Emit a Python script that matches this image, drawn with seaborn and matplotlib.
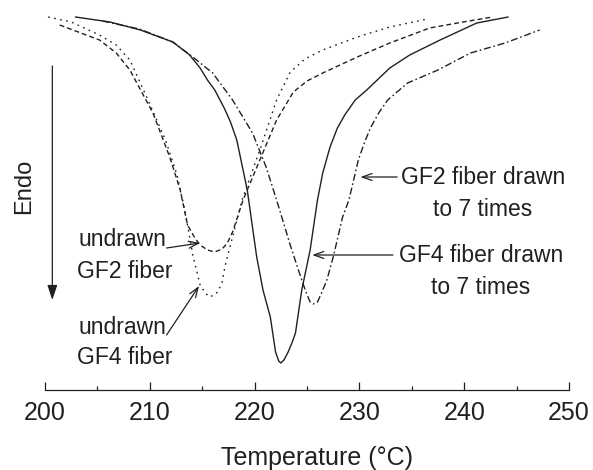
import numpy as np
import pandas as pd
import seaborn as sns
import matplotlib
matplotlib.use("Agg")
import matplotlib.pyplot as plt

# step 1: curves (temperature in C, signal in arbitrary units, up = exo)
temp_gf4_undrawn = [200.3, 202.5, 205.2, 206.8, 208.1, 209.7, 211.5, 212.6, 213.4, 214.1,
                    214.5, 214.8, 215.3, 215.7, 216.1, 216.5, 216.9, 217.2, 217.7, 218.8,
                    220.5, 222.1, 223.4, 224.8, 226.5, 229.8, 232.9, 236.5]
sig_gf4_undrawn = [373, 368, 355, 345, 330, 293, 250, 215, 177, 135,
                   118, 105, 97, 93, 95, 98, 108, 125, 145, 190,
                   240, 290, 318, 331, 340, 353, 363, 371]

temp_gf2_undrawn = [201.4, 205.2, 206.8, 208.1, 210.3, 211.9, 212.9, 213.6, 214.3, 214.8,
                    215.5, 216.2, 216.9, 217.4, 217.9, 218.9, 220.5, 222.1, 223.7, 225.0,
                    226.5, 229.8, 232.9, 236.7, 239.9, 242.7]
sig_gf2_undrawn = [365, 350, 337, 320, 277, 233, 200, 165, 152, 145,
                   140, 138, 141, 147, 158, 190, 230, 270, 298, 309,
                   317, 333, 347, 362, 368, 373]

temp_gf4_drawn = [202.9, 206.2, 209.1, 212.2, 213.8, 214.8, 215.5, 216.2, 217.1, 217.7,
                  218.3, 219.3, 220.2, 220.8, 221.5, 222.0, 222.3, 222.5, 222.8, 223.2,
                  223.6, 223.9, 224.5, 225.3, 226.0, 226.5, 227.2, 227.9, 228.6, 229.6,
                  230.7, 232.9, 234.8, 237.7, 241.2, 244.2]
sig_gf4_drawn = [373, 368, 360, 348, 335, 322, 310, 300, 282, 268,
                 250, 200, 133, 100, 73, 38, 29, 27, 30, 38,
                 48, 57, 100, 140, 190, 217, 243, 262, 275, 290,
                 300, 322, 335, 350, 367, 373]

temp_gf2_drawn = [205.5, 209.0, 212.2, 214.1, 216.0, 217.9, 219.8, 221.1, 222.1, 223.4,
                  224.4, 224.9, 225.3, 225.6, 226.0, 226.3, 226.9, 227.5, 228.4, 229.0,
                  229.9, 230.5, 231.1, 231.9, 232.7, 234.6, 237.5, 240.6, 243.9, 247.2]
sig_gf2_drawn = [369, 361, 348, 333, 317, 290, 257, 223, 190, 145,
                 113, 98, 88, 86, 88, 95, 110, 133, 173, 190,
                 230, 248, 263, 278, 290, 307, 320, 337, 347, 360]

x_ticks = [200, 210, 220, 230, 240, 250]

curves = [
    (temp_gf4_undrawn, sig_gf4_undrawn, (0, (1.2, 3.2))),
    (temp_gf2_undrawn, sig_gf2_undrawn, (0, (3.5, 2.2))),
    (temp_gf4_drawn, sig_gf4_drawn, "-"),
    (temp_gf2_drawn, sig_gf2_drawn, (0, (5, 2, 1.2, 2))),
]

# step 2: style and font
sns.set_style("white")
plt.rcParams["font.family"] = ["Liberation Sans", "DejaVu Sans"]
ink = "#231f20"

fig = plt.figure(figsize=(5.93, 4.70), dpi=100)
ax = fig.add_axes([45 / 593, 1 - 390 / 470, 524 / 593, 390 / 470])

# step 3: plot
for temp, sig, ls in curves:
    df_c = pd.DataFrame({"Temperature": temp, "Signal": sig})
    sns.lineplot(data=df_c, x="Temperature", y="Signal", sort=False,
                 color=ink, linewidth=1.0, linestyle=ls, ax=ax)

# step 4: axis + annotation titles & style
ax.set_xlim(200, 250)
ax.set_ylim(0, 390)
ax.set_yticks([])
ax.set_ylabel("")
for side in ["top", "right", "left"]:
    ax.spines[side].set_visible(False)
ax.spines["bottom"].set_color(ink)
ax.spines["bottom"].set_linewidth(0.9)
ax.set_xticks(x_ticks)
ax.set_xticks(np.arange(205, 250, 10), minor=True)
ax.tick_params(axis="x", which="both", bottom=True)
ax.tick_params(axis="x", which="major", direction="in", length=6, width=0.9,
               colors=ink, labelsize=18, pad=8)
ax.tick_params(axis="x", which="minor", direction="in", length=3, width=0.9, colors=ink)
ax.set_xlabel("Temperature (°C)", fontsize=18, color=ink)
ax.xaxis.set_label_coords(0.519, -0.174)
ax.xaxis.label.set_va("center")

# Endo arrow and label
ax.annotate("", xy=(200.7, 390 - 300), xytext=(200.7, 390 - 66),
            arrowprops=dict(arrowstyle="-|>,head_length=0.9,head_width=0.3",
                            color=ink, lw=0.9, shrinkA=0, shrinkB=0))
ax.text(198.0, 390 - 186, "Endo", rotation=90, ha="center", va="center",
        fontsize=17, color=ink)

# curve labels
lab = dict(fontsize=16.5, color=ink, ha="center", va="center")
arr = dict(arrowstyle="->,head_length=0.7,head_width=0.25", color=ink, lw=0.9,
           shrinkA=0, shrinkB=0)

ax.text(207.4, 390 - 240, "undrawn", **lab)
ax.text(207.6, 390 - 271, "GF2 fiber", **lab)
ax.annotate("", xy=(214.8, 390 - 243), xytext=(211.6, 390 - 248), arrowprops=arr)

ax.text(207.4, 390 - 327, "undrawn", **lab)
ax.text(207.6, 390 - 358, "GF4 fiber", **lab)
ax.annotate("", xy=(214.7, 390 - 286), xytext=(211.6, 390 - 335), arrowprops=arr)

ax.text(241.8, 390 - 177, "GF2 fiber drawn", **lab)
ax.text(241.8, 390 - 210, "to 7 times", **lab)
ax.annotate("", xy=(230.1, 390 - 177), xytext=(233.6, 390 - 177), arrowprops=arr)

ax.text(241.6, 390 - 255, "GF4 fiber drawn", **lab)
ax.text(241.6, 390 - 287, "to 7 times", **lab)
ax.annotate("", xy=(225.5, 390 - 255), xytext=(233.2, 390 - 255), arrowprops=arr)

# step 5: save
fig.savefig("out.png", dpi=100)
